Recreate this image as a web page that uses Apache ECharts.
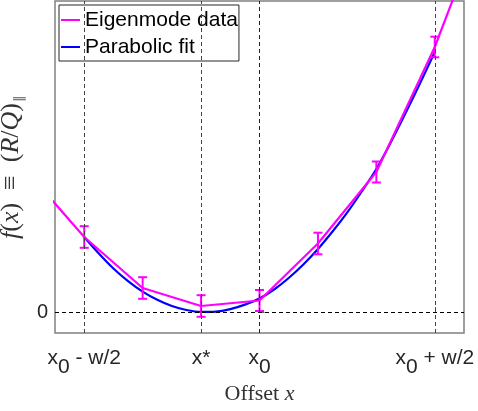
<!DOCTYPE html>
<html>
<head>
<meta charset="utf-8">
<script src="https://cdn.jsdelivr.net/npm/echarts@6/dist/echarts.min.js"></script>
<style>
html,body{margin:0;padding:0;background:#fff;}
#chart{width:478px;height:411px;}
</style>
</head>
<body>
<div id="chart"></div>
<script>
// Offsets in units of the sample step (x0 = 0, w/2 = 3 steps)
const dataX = [-4, -3, -2, -1, 0, 1, 2, 3, 4];
const dataY = [142, 75, 24, 6, 11.5, 68.5, 140, 265, 418];
const errX = [-3, -2, -1, 0, 1, 2, 3];
const errY = [75, 24, 6, 11.5, 68.5, 140, 265];
const errHalf = [10.8, 10.8, 10.8, 10.5, 10.8, 10.5, 10.3];
const fitX = [-3, -2.75, -2.5, -2.25, -2, -1.75, -1.5, -1.25, -1, -0.75, -0.5, -0.25, 0,
              0.25, 0.5, 0.75, 1, 1.25, 1.5, 1.75, 2, 2.25, 2.5, 2.75, 3];
const fitY = [75, 58.5, 43.5, 30.9, 20.4, 12.2, 6.0, 2.0, 0.1, 0.4, 2.9, 7.4, 13.5,
              22.5, 34, 47.5, 63, 80.5, 99.4, 120.5, 143, 170, 199, 229, 260];
const xTickValues = [-3, -1, 0, 3];
const xTickLabels = ['{a|x}{b|0}{a| - w/2}', '{a|x*}', '{a|x}{b|0}', '{a|x}{b|0}{a| + w/2}'];
const seriesNames = ['Eigenmode data', 'Parabolic fit'];

const chart = echarts.init(document.getElementById('chart'), null, {renderer: 'canvas'});
const sans = '"Liberation Sans", Arial, sans-serif';
const serif = '"Liberation Serif", "Times New Roman", serif';

chart.setOption({
  animation: false,
  grid: {left: 55, right: 14, top: 1, bottom: 78, containLabel: false, outerBoundsMode: 'none',
         show: true, borderColor: '#808080', borderWidth: 1.5, backgroundColor: 'transparent'},
  legend: {
    data: seriesNames,
    orient: 'vertical',
    left: 59, top: 5,
    padding: [3, 1, 2, 2],
    itemGap: 3,
    itemWidth: 19, itemHeight: 2,
    icon: 'rect',
    backgroundColor: '#fff',
    borderColor: '#262626', borderWidth: 1,
    textStyle: {fontFamily: sans, fontSize: 21, color: '#000', lineHeight: 24}
  },
  xAxis: {
    type: 'value', min: -3.5, max: 3.5,
    splitLine: {show: false},
    axisLine: {show: false},
    axisTick: {show: true, inside: true, length: 5, customValues: xTickValues, lineStyle: {color: '#666'}},
    axisLabel: {
      customValues: xTickValues,
      margin: 15,
      formatter: function (v) { return xTickLabels[xTickValues.indexOf(v)]; },
      rich: {
        a: {fontFamily: sans, fontSize: 21, color: '#262626', lineHeight: 22, verticalAlign: 'top'},
        b: {fontFamily: sans, fontSize: 21, color: '#262626', lineHeight: 22, verticalAlign: 'top', padding: [9, 0, 0, 0]}
      }
    },
    name: '{r|Offset }{i|x}',
    nameLocation: 'middle',
    nameGap: 48,
    nameTextStyle: {
      rich: {
        r: {fontFamily: serif, fontSize: 22, color: '#333'},
        i: {fontFamily: serif, fontSize: 22, fontStyle: 'italic', color: '#333'}
      }
    }
  },
  yAxis: {
    type: 'value', min: -21, max: 311,
    splitLine: {show: false},
    axisLine: {show: false},
    axisTick: {show: true, inside: true, length: 5, customValues: [0], lineStyle: {color: '#666'}},
    axisLabel: {customValues: [0], margin: 7, fontFamily: sans, fontSize: 20, color: '#262626', formatter: function () { return '0'; }},
    name: '{i|f}{r|(}{i|x}{r|)  ≡  (}{i|R}{r|/}{i|Q}{r|)}{s|∥}',
    nameLocation: 'middle',
    nameRotate: 90,
    nameGap: 18,
    nameTextStyle: {
      rich: {
        r: {fontFamily: serif, fontSize: 26, color: '#333', lineHeight: 28, verticalAlign: 'top'},
        i: {fontFamily: serif, fontSize: 26, fontStyle: 'italic', color: '#333', lineHeight: 28, verticalAlign: 'top'},
        s: {fontFamily: serif, fontSize: 13, color: '#555', lineHeight: 14, verticalAlign: 'top', padding: [15, 0, 0, 1]}
      }
    }
  },
  series: [
    {
      name: 'guides', type: 'line', data: [], z: 1, silent: true,
      markLine: {
        silent: true, symbol: 'none', animation: false,
        label: {show: false},
        emphasis: {disabled: true},
        data: [
          {xAxis: xTickValues[0], lineStyle: {color: '#444', width: 1, type: [4, 3]}},
          {xAxis: xTickValues[1], lineStyle: {color: '#444', width: 1, type: [4, 3]}},
          {xAxis: xTickValues[2], lineStyle: {color: '#222', width: 1, type: [4, 3]}},
          {xAxis: xTickValues[3], lineStyle: {color: '#444', width: 1, type: [4, 3]}},
          {yAxis: 0, lineStyle: {color: '#000', width: 1, type: [4, 3]}}
        ]
      }
    },
    {
      name: seriesNames[1], type: 'line', z: 2,
      data: fitX.map((x, i) => [x, fitY[i]]),
      smooth: 0.3, showSymbol: false, symbol: 'none',
      lineStyle: {color: '#0000FF', width: 2.2},
      itemStyle: {color: '#0000FF'}
    },
    {
      name: seriesNames[0], type: 'line', z: 3,
      data: dataX.map((x, i) => [x, dataY[i]]),
      showSymbol: false, symbol: 'none', clip: true,
      lineStyle: {color: '#FF00FF', width: 2.2},
      itemStyle: {color: '#FF00FF'}
    },
    {
      name: 'errorbars', type: 'custom', z: 4,
      data: errX.map((x, i) => [x, errY[i], errHalf[i]]),
      renderItem: function (params, api) {
        const x = api.value(0), y = api.value(1), e = api.value(2);
        const t = api.coord([x, y + e]);
        const b = api.coord([x, y - e]);
        const cw = 4.5;
        const st = {stroke: '#FF00FF', lineWidth: 2};
        return {
          type: 'group',
          children: [
            {type: 'line', shape: {x1: t[0], y1: t[1], x2: b[0], y2: b[1]}, style: st},
            {type: 'line', shape: {x1: t[0] - cw, y1: t[1], x2: t[0] + cw, y2: t[1]}, style: st},
            {type: 'line', shape: {x1: b[0] - cw, y1: b[1], x2: b[0] + cw, y2: b[1]}, style: st}
          ]
        };
      }
    }
  ]
});
</script>
</body>
</html>
